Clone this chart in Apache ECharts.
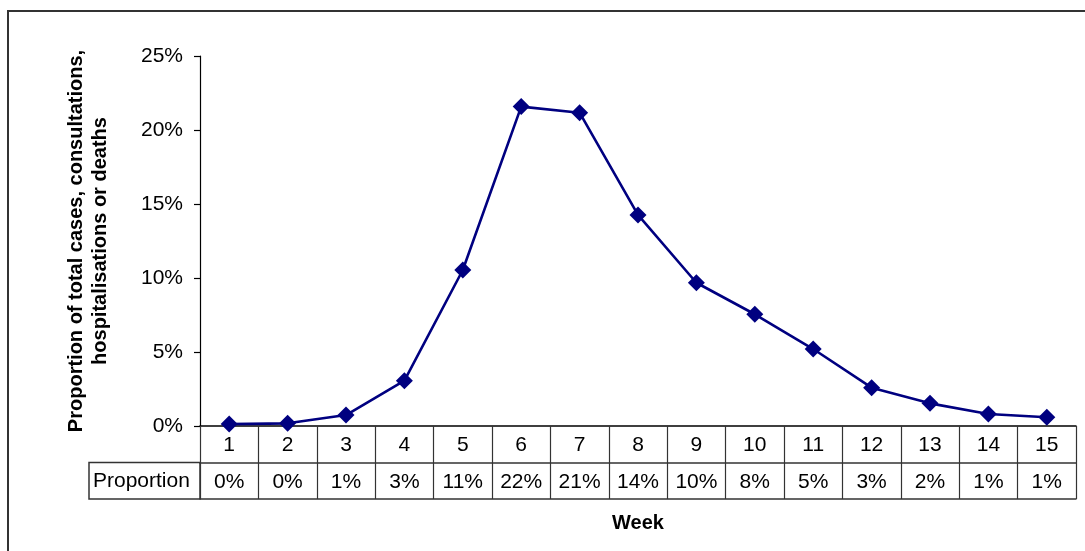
<!DOCTYPE html>
<html>
<head>
<meta charset="utf-8">
<script src="https://cdn.jsdelivr.net/npm/echarts@6/dist/echarts.min.js"></script>
<style>
  html, body { margin: 0; padding: 0; background: #fff; }
  #chart { width: 1085px; height: 551px; }
</style>
</head>
<body>
<div id="chart"></div>
<script>
// Weekly share of the epidemic total
const weeks = ['1', '2', '3', '4', '5', '6', '7', '8', '9', '10', '11', '12', '13', '14', '15'];
const proportion = [0.0013, 0.0018, 0.0074, 0.0306, 0.1054, 0.2158, 0.2117, 0.1426,
                    0.0968, 0.0755, 0.0520, 0.0259, 0.0153, 0.0081, 0.0059];
const rowLabel = 'Proportion';
const yTitle = 'Proportion of total cases, consultations,\nhospitalisations or deaths';
const xTitle = 'Week';

const FONT = '"Liberation Sans", Arial, sans-serif';
const INK = '#000';
const pct = v => Math.round(v * 100) + '%';

const chart = echarts.init(document.getElementById('chart'), null, { renderer: 'canvas' });

const grid = { left: 200, right: 9, top: 56, bottom: 125 };
const rowH = 36.5;

chart.setOption({
  animation: false,
  backgroundColor: '#fff',
  grid: grid,
  xAxis: [
    {
      // header row of the data table: week numbers
      type: 'category', data: weeks, position: 'bottom', boundaryGap: true,
      axisLine: { lineStyle: { color: INK, width: 1.5 } },
      axisTick: { show: true, interval: 0, length: rowH * 2, lineStyle: { color: '#333', width: 1.2 } },
      axisLabel: { interval: 0, margin: 9, color: INK, fontFamily: FONT, fontSize: 21 }
    },
    {
      // second row: rounded proportions
      type: 'category', data: weeks, position: 'bottom', offset: rowH, boundaryGap: true,
      axisLine: { lineStyle: { color: '#333', width: 1.5 } },
      axisTick: { show: false },
      axisLabel: {
        interval: 0, margin: 9, color: INK, fontFamily: FONT, fontSize: 21,
        formatter: (v, i) => pct(proportion[i])
      }
    },
    {
      // bottom edge of the table and axis title
      type: 'category', data: weeks, position: 'bottom', offset: rowH * 2, boundaryGap: true,
      axisLine: { lineStyle: { color: '#333', width: 1.5 } },
      axisTick: { show: false },
      axisLabel: { show: false },
      name: xTitle, nameLocation: 'middle', nameGap: 14,
      nameTextStyle: { color: INK, fontFamily: FONT, fontSize: 20, fontWeight: 'bold' }
    }
  ],
  yAxis: {
    type: 'value', min: 0, max: 0.25, interval: 0.05,
    axisLine: { show: true, lineStyle: { color: INK, width: 1.2 } },
    axisTick: { show: true, length: 6, lineStyle: { color: INK, width: 1.2 } },
    splitLine: { show: false },
    axisLabel: { margin: 17, color: INK, fontFamily: FONT, fontSize: 21, formatter: v => pct(v) },
    name: yTitle, nameLocation: 'middle', nameGap: 88, nameRotate: 90,
    nameTextStyle: { color: INK, fontFamily: FONT, fontSize: 20, fontWeight: 'bold', lineHeight: 24, align: 'center' }
  },
  series: [{
    type: 'line',
    xAxisIndex: 0,
    data: proportion,
    symbol: 'diamond',
    symbolSize: 17,
    lineStyle: { color: '#000080', width: 2.6 },
    itemStyle: { color: '#000080' },
    z: 5
  }],
  graphic: [
    {
      // outer chart frame
      type: 'rect', silent: true,
      shape: { x: 8, y: 11, width: 1100, height: 600 },
      style: { fill: null, stroke: '#333', lineWidth: 2 }
    },
    {
      // row header cell of the data table
      type: 'rect', silent: true,
      shape: { x: 89, y: 551 - grid.bottom + rowH, width: grid.left - 89, height: rowH },
      style: { fill: null, stroke: '#333', lineWidth: 1.5 }
    },
    {
      type: 'text', silent: true,
      x: 93, y: 551 - grid.bottom + rowH * 1.5,
      style: { text: rowLabel, fill: INK, font: '21px ' + FONT, textVerticalAlign: 'middle', textAlign: 'left' }
    }
  ]
});
</script>
</body>
</html>
